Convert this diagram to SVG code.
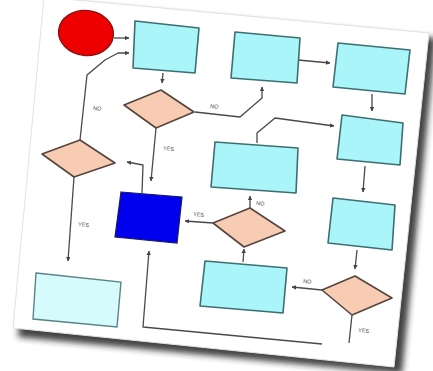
<svg xmlns="http://www.w3.org/2000/svg" width="433" height="371" viewBox="0 0 433 371">
<defs>
<filter id="blur" x="-10%" y="-10%" width="120%" height="120%"><feGaussianBlur stdDeviation="3"/></filter>
<marker id="ah" viewBox="0 0 6 6" refX="5.5" refY="3" markerWidth="4.5" markerHeight="4.5" orient="auto" markerUnits="userSpaceOnUse"><path d="M0,0 L6,3 L0,6 z" fill="#444"/></marker>
<style>
.rect{fill:#aaf5fa;stroke:#3d6f72;stroke-width:1.6;stroke-linejoin:round}
.pale{fill:#d6fbfd;stroke:#5a8486;stroke-width:1.4}
.dia{fill:#f8ccb2;stroke:#54463f;stroke-width:1.6;stroke-linejoin:round}
.blue{fill:#0000ee;stroke:#1a1a66;stroke-width:1.2}
.con path{fill:none;stroke:#4a4a4a;stroke-width:1.3;stroke-linejoin:round}
.arr{marker-end:url(#ah)}
text{font-family:"Liberation Sans",Arial,sans-serif;font-size:5.5px;fill:#444}
</style>
</defs>
<rect width="433" height="371" fill="#fff"/>
<polygon points="50,2 436,38 402,374 18,337" fill="#222" opacity="0.85" filter="url(#blur)"/>
<polygon points="44,-3 429,33 394,367 13,328" fill="#fff" stroke="#e2e2e2" stroke-width="1"/>

<g class="con" id="connectors">
<path class="arr" d="M114,38 L129,38"/>
<path class="arr" d="M80,140 L87,75 L105,60 L118,53 L129,53"/>
<path class="arr" d="M163,73 L162,83"/>
<path class="arr" d="M195,112 L240,117 L262,98 L262,87"/>
<path class="arr" d="M156,128 L151,181"/>
<path class="arr" d="M142,193 L143,165 L127,162"/>
<path class="arr" d="M74,177 L68,261"/>
<path class="arr" d="M322,344 L143,327 L149,251"/>
<path d="M352,315 L349,343"/>
<path class="arr" d="M322,290 L292,287"/>
<path class="arr" d="M243,262 L244,249"/>
<path class="arr" d="M250,208 L250,196"/>
<path class="arr" d="M213,223 L185,221"/>
<path class="arr" d="M257,143 L257,133 L275,118 L334,126"/>
<path class="arr" d="M298,60 L330,63"/>
<path class="arr" d="M372,94 L372,111"/>
<path class="arr" d="M365,166 L363,192"/>
<path class="arr" d="M357,250 L355,269"/>
<text x="93" y="110" transform="rotate(5 93 110)">NO</text>
<text x="210" y="108" transform="rotate(5 210 108)">NO</text>
<text x="163" y="150" transform="rotate(5 163 150)">YES</text>
<text x="78" y="226" transform="rotate(5 78 226)">YES</text>
<text x="193" y="216" transform="rotate(5 193 216)">YES</text>
<text x="256" y="205" transform="rotate(5 256 205)">NO</text>
<text x="303" y="283" transform="rotate(5 303 283)">NO</text>
<text x="358" y="332" transform="rotate(5 358 332)">YES</text>
</g>

<g id="start"><ellipse cx="86" cy="33" rx="27.5" ry="22.5" transform="rotate(6 86 33)" fill="#ee0000" stroke="#8a1010" stroke-width="1.3"/></g>
<g id="rectA"><polygon class="rect" points="135,21 199,28 195,73 133,68"/></g>
<g id="rectC"><polygon class="rect" points="235,32 300,38 297,83 231,78"/></g>
<g id="rectK"><polygon class="rect" points="338,43 410,50 405,94 333,87"/></g>
<g id="rectJ"><polygon class="rect" points="342,115 403,123 400,165 337,159"/></g>
<g id="rectI"><polygon class="rect" points="215,142 298,148 296,193 211,187"/></g>
<g id="rectL"><polygon class="rect" points="333,198 395,205 392,250 328,243"/></g>
<g id="rectG"><polygon class="rect" points="205,261 287,268 283,313 200,306"/></g>
<g id="rectE"><polygon class="pale" points="36,273 121,282 117,327 33,319"/></g>
<g id="blueRect"><polygon class="blue" points="121,192 182,197 177,243 115,237"/></g>
<g id="diamondB"><polygon class="dia" points="124,105 161,90 194,112 156,128"/></g>
<g id="diamondD"><polygon class="dia" points="42,154 80,140 115,163 74,177"/></g>
<g id="diamondH"><polygon class="dia" points="213,223 250,208 285,231 244,247"/></g>
<g id="diamondF"><polygon class="dia" points="322,290 355,276 392,298 352,315"/></g>
</svg>
